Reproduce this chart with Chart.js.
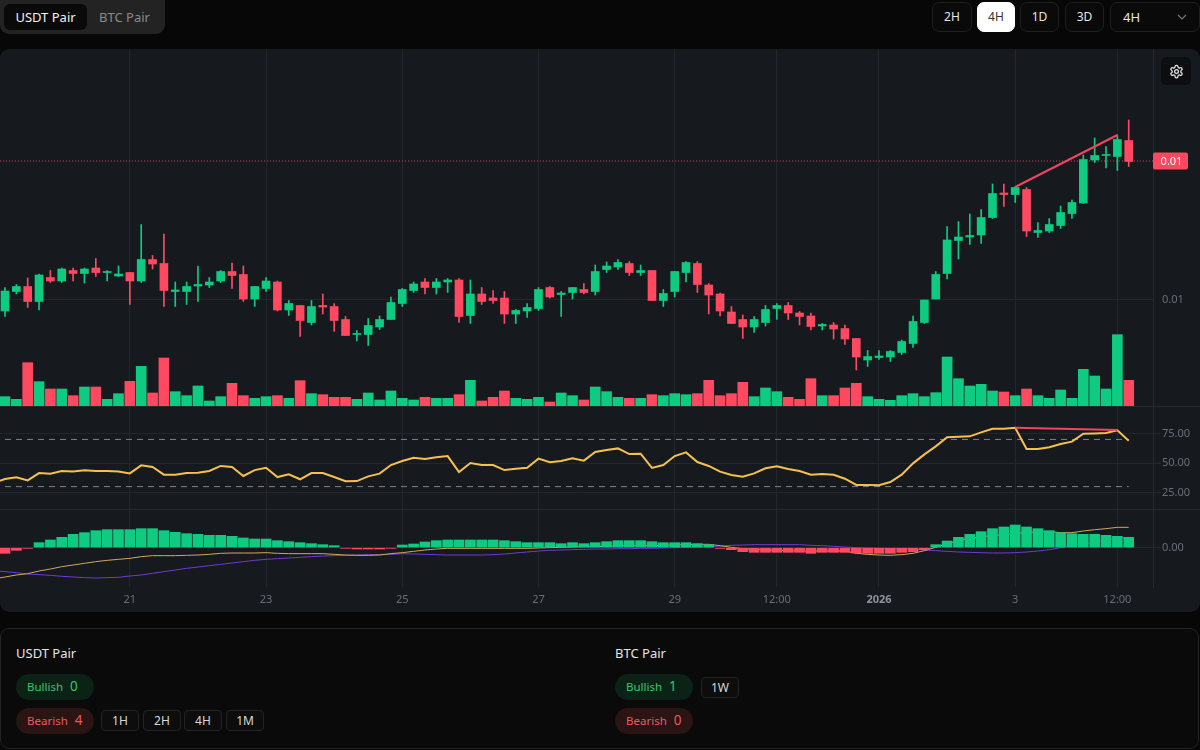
<!DOCTYPE html>
<html>
<head>
<meta charset="utf-8">
<title>Chart</title>
<script src="https://cdn.jsdelivr.net/npm/chart.js@4"></script>
<style>
  * { box-sizing: border-box; }
  html, body { margin: 0; width: 1200px; height: 750px; overflow: hidden; background: #070707; font-family: "Noto Sans", sans-serif; color: #e5e5e5; }
  .abs { position: absolute; }
  .tabs { left: 0; top: 0; width: 165px; height: 34px; background: #232323; border-radius: 0 0 9px 9px; }
  .tab { top: 4px; height: 26px; font-size: 13px; line-height: 26px; text-align: center; border-radius: 6px; }
  .tf { top: 2px; height: 30px; font-size: 12px; line-height: 28px; text-align: center; border: 1px solid #1f1f1f; border-radius: 7px; color: #e5e5e5; background: #0a0a0a; }
  .tf.on { background: #fff; color: #333; border-color: #fff; }
  .panel { left: 0; top: 49px; width: 1200px; height: 563px; background: #161a1f; border-radius: 9px; overflow: hidden; }
  .pane { position: absolute; left: 0; width: 1200px; }
  .sep { position: absolute; left: 0; width: 1200px; height: 1px; background: #262a30; }
  .gear { left: 1161px; top: 57px; width: 30px; height: 28px; background: #0c0e11; border-radius: 6px; display: flex; align-items: center; justify-content: center; }
  .card { left: 0; top: 628px; width: 1199px; height: 121px; background: #0a0a0a; border: 1px solid #232323; border-radius: 9px; }
  .head { font-size: 13px; line-height: 20px; color: #e5e5e5; }
  .pill { width: 78px; height: 26px; border-radius: 13px; font-size: 11.5px; line-height: 24px; padding-left: 11px; }
  .pill b { font-weight: 400; font-size: 13.5px; margin-left: 4px; }
  .bull { background: #0b2216; color: #3cc46c; }
  .bear { background: #2a1414; color: #e35d5d; }
  .chip { width: 38px; height: 21px; font-size: 12px; line-height: 19px; text-align: center; border: 1px solid #222; border-radius: 4px; color: #d8d8d8; background: #0d0d0d; }
</style>
</head>
<body>
<div class="abs tabs"></div>
<div class="abs tab" style="left:4px;width:83px;background:#0a0a0a;color:#f2f2f2">USDT Pair</div>
<div class="abs tab" style="left:87px;width:75px;color:#8a8a8a">BTC Pair</div>

<div class="abs tf" style="left:932px;width:40px">2H</div>
<div class="abs tf on" style="left:977px;width:38px">4H</div>
<div class="abs tf" style="left:1020px;width:39px">1D</div>
<div class="abs tf" style="left:1065px;width:39px">3D</div>
<div class="abs tf" style="left:1110px;width:90px;text-align:left;padding-left:12px;font-size:13px">4H
  <svg style="position:absolute;right:12px;top:10px" width="10" height="8" viewBox="0 0 10 8" fill="none" stroke="#777" stroke-width="1.2"><path d="M1 2l4 4 4-4"/></svg>
</div>

<div class="abs panel">
  <div class="pane" style="top:0;height:357px"><canvas id="priceChart" width="1200" height="357"></canvas></div>
  <div class="sep" style="top:357px"></div>
  <div class="pane" style="top:358px;height:102px"><canvas id="rsiChart" width="1200" height="102"></canvas></div>
  <div class="sep" style="top:460px"></div>
  <div class="pane" style="top:461px;height:102px"><canvas id="macdChart" width="1200" height="102"></canvas></div>
</div>
<div class="abs gear">
  <svg width="15" height="15" viewBox="0 0 24 24" fill="none" stroke="#e8e8e8" stroke-width="2" stroke-linecap="round" stroke-linejoin="round"><path d="M12.22 2h-.44a2 2 0 0 0-2 2v.18a2 2 0 0 1-1 1.73l-.43.25a2 2 0 0 1-2 0l-.15-.08a2 2 0 0 0-2.73.73l-.22.38a2 2 0 0 0 .73 2.73l.15.1a2 2 0 0 1 1 1.72v.51a2 2 0 0 1-1 1.74l-.15.09a2 2 0 0 0-.73 2.73l.22.38a2 2 0 0 0 2.73.73l.15-.08a2 2 0 0 1 2 0l.43.25a2 2 0 0 1 1 1.73V20a2 2 0 0 0 2 2h.44a2 2 0 0 0 2-2v-.18a2 2 0 0 1 1-1.73l.43-.25a2 2 0 0 1 2 0l.15.08a2 2 0 0 0 2.73-.73l.22-.39a2 2 0 0 0-.73-2.73l-.15-.08a2 2 0 0 1-1-1.74v-.5a2 2 0 0 1 1-1.74l.15-.09a2 2 0 0 0 .73-2.73l-.22-.38a2 2 0 0 0-2.73-.73l-.15.08a2 2 0 0 1-2 0l-.43-.25a2 2 0 0 1-1-1.73V4a2 2 0 0 0-2-2z"/><circle cx="12" cy="12" r="3"/></svg>
</div>

<div class="abs card"></div>
<div class="abs head" style="left:16px;top:643px">USDT Pair</div>
<div class="abs pill bull" style="left:16px;top:674px">Bullish <b>0</b></div>
<div class="abs pill bear" style="left:16px;top:708px">Bearish <b>4</b></div>
<div class="abs chip" style="left:101px;top:710px">1H</div>
<div class="abs chip" style="left:143px;top:710px">2H</div>
<div class="abs chip" style="left:184px;top:710px">4H</div>
<div class="abs chip" style="left:226px;top:710px">1M</div>

<div class="abs head" style="left:615px;top:643px">BTC Pair</div>
<div class="abs pill bull" style="left:615px;top:674px">Bullish <b>1</b></div>
<div class="abs pill bear" style="left:615px;top:708px">Bearish <b>0</b></div>
<div class="abs chip" style="left:701px;top:677px">1W</div>

<script>
// prices are in 1e-5 units, the axis formats them back to 0.01
const opens = [
  978, 1017, 1027, 997, 1045, 1038, 1059, 1053, 1064, 1055,
  1048, 1055, 1038, 1081, 1073, 1017, 1017, 1028, 1030, 1038,
  1057, 1051, 1002, 1023, 1036, 980, 989, 955, 989, 987,
  961, 931, 931, 946, 961, 993, 1019, 1036, 1025, 1036,
  1040, 969, 1012, 1004, 1004, 972, 978, 983, 1025, 1011,
  1015, 1021, 1017, 1061, 1066, 1073, 1055, 1059, 999, 1017,
  1055, 1073, 1030, 1012, 976, 961, 946, 955, 983, 989,
  974, 968, 948, 950, 943, 923, 880, 885, 886, 895,
  913, 955, 1002, 1053, 1119, 1126, 1130, 1165, 1214, 1211,
  1221, 1135, 1138, 1149, 1173, 1194, 1280, 1289, 1287, 1319,
];
const closes = [
  1018, 1027, 997, 1050, 1038, 1062, 1053, 1062, 1055, 1057,
  1052, 1038, 1081, 1072, 1019, 1020, 1027, 1031, 1036, 1057,
  1049, 1002, 1027, 1038, 980, 993, 959, 987, 986, 959,
  929, 933, 949, 961, 995, 1021, 1032, 1025, 1036, 1040,
  967, 1012, 997, 999, 972, 979, 985, 1021, 1006, 1014,
  1025, 1015, 1057, 1068, 1075, 1055, 1059, 999, 1013, 1057,
  1075, 1031, 1010, 978, 953, 946, 961, 981, 989, 974,
  967, 947, 951, 942, 922, 886, 887, 888, 897, 917,
  957, 1000, 1051, 1120, 1126, 1129, 1165, 1213, 1211, 1225,
  1138, 1139, 1151, 1175, 1195, 1281, 1289, 1291, 1321, 1277,
];
const highs = [
  1025, 1031, 1044, 1052, 1059, 1064, 1064, 1064, 1083, 1059,
  1068, 1055, 1151, 1089, 1132, 1036, 1036, 1068, 1045, 1059,
  1074, 1068, 1027, 1045, 1038, 999, 989, 999, 1012, 993,
  967, 939, 963, 968, 1006, 1023, 1036, 1043, 1043, 1043,
  1043, 1040, 1025, 1019, 1017, 981, 993, 1025, 1027, 1017,
  1025, 1033, 1070, 1076, 1081, 1077, 1070, 1059, 1021, 1057,
  1077, 1077, 1033, 1014, 987, 970, 967, 989, 993, 995,
  977, 974, 953, 955, 950, 923, 899, 899, 899, 920,
  968, 1000, 1057, 1147, 1157, 1172, 1181, 1232, 1232, 1227,
  1225, 1155, 1163, 1188, 1200, 1290, 1324, 1307, 1330, 1360,
];
const lows = [
  967, 1012, 985, 980, 1035, 1035, 1038, 1034, 1047, 1038,
  1047, 991, 1035, 1062, 987, 987, 991, 997, 1025, 1035,
  1023, 997, 987, 1017, 978, 969, 927, 950, 972, 937,
  929, 918, 909, 941, 961, 987, 1015, 1012, 1012, 1015,
  955, 953, 991, 993, 953, 953, 965, 979, 1004, 967,
  1002, 1012, 1010, 1055, 1061, 1049, 1049, 999, 987, 1006,
  1036, 1015, 972, 968, 953, 923, 935, 948, 961, 961,
  950, 940, 940, 922, 911, 860, 867, 881, 877, 891,
  905, 953, 1002, 1042, 1082, 1111, 1113, 1163, 1187, 1195,
  1127, 1125, 1135, 1143, 1163, 1193, 1275, 1264, 1259, 1267,
];
const volumes = [
  28, 20, 130, 73, 51, 51, 31, 57, 57, 20,
  37, 74, 119, 39, 144, 43, 31, 60, 15, 28,
  68, 31, 23, 28, 31, 23, 76, 37, 34, 26,
  26, 20, 39, 18, 45, 23, 18, 26, 23, 23,
  34, 77, 15, 26, 45, 23, 20, 26, 12, 39,
  31, 18, 57, 43, 26, 23, 23, 34, 31, 37,
  34, 37, 77, 31, 37, 71, 28, 54, 43, 26,
  20, 82, 31, 31, 54, 68, 28, 20, 17, 31,
  37, 28, 40, 147, 82, 60, 65, 45, 42, 31,
  51, 31, 23, 48, 23, 110, 90, 51, 214, 77,
];
const rsiValues = [
  36.4, 37.9, 35.3, 41.5, 41, 43.2, 42.9, 43.8, 43.2, 43.2,
  42.7, 41.2, 48, 46.6, 40.1, 40.1, 41.5, 41.8, 43.2, 47.5,
  46.6, 39, 44, 46, 38.1, 40.4, 36.2, 41.5, 41.5, 38.1,
  34.5, 34.7, 38.7, 41, 48.3, 51.7, 54.5, 53.4, 54.8, 55.9,
  42.4, 50, 48.3, 48.3, 44, 45.2, 46, 53.7, 50.6, 51.7,
  54, 52, 59.3, 61, 62.4, 57.6, 57.9, 45.8, 48.3, 55.9,
  59, 50.8, 47.5, 42.7, 39.8, 38.4, 41.2, 45.5, 47.2, 44.9,
  43.2, 40.1, 40.7, 40.1, 36.7, 31.4, 31.4, 31.1, 33.9, 40.1,
  49.7, 57.3, 64.1, 71.8, 72.3, 72.6, 76, 79.1, 79.1, 79.9,
  61.9, 61.9, 63.3, 66.1, 68.1, 74.9, 75.1, 75.4, 77.7, 68.9,
];
const macdHist = [
  -17, -8, -2, 15, 23, 31, 40, 45, 51, 54,
  54, 54, 57, 57, 51, 46, 42, 40, 37, 37,
  34, 29, 26, 26, 21, 18, 15, 12, 9, 6,
  -2, -4, -4, -4, -2, 8, 11, 17, 21, 23,
  23, 23, 23, 23, 21, 18, 15, 15, 15, 12,
  15, 12, 15, 18, 21, 21, 21, 18, 15, 15,
  15, 12, 9, -2, -6, -12, -14, -14, -14, -14,
  -14, -17, -14, -14, -14, -16, -17, -17, -17, -14,
  -12, -6, 9, 20, 31, 40, 48, 57, 62, 68,
  62, 57, 51, 45, 42, 40, 40, 37, 34, 31,
];
const macdLine = [
  -88, -82, -78, -70, -64, -57, -52, -47, -42, -38,
  -35, -32, -27, -24, -24, -24, -23, -22, -20, -17,
  -16, -16, -16, -15, -17, -18, -18, -18, -18, -20,
  -22, -23, -23, -22, -18, -15, -11, -7, -4, -2,
  -2, -2, -2, -2, -2, -2, -2, -1, 0, 1,
  2, 3, 3, 4, 5, 6, 6, 6, 7, 8,
  9, 10, 10, 6, 1, -3, -5, -7, -8, -9,
  -10, -10, -10, -10, -10, -17, -20, -22, -23, -21,
  -17, -9, 1, 11, 21, 28, 33, 36, 39, 43,
  45, 47, 48, 45, 45, 50, 54, 57, 61, 61,
];
const signalLine = [
  -72, -75, -79, -81, -83, -86, -88, -90, -91, -90,
  -89, -85, -82, -77, -72, -67, -62, -58, -54, -50,
  -46, -42, -38, -35, -33, -31, -29, -27, -25, -24,
  -23, -22, -21, -21, -20, -18, -19, -20, -21, -22,
  -22, -22, -22, -21, -19, -16, -13, -10, -8, -7,
  -6, -5, -4, -4, -3, -3, -2, -2, -1, 0,
  1, 2, 3, 5, 7, 8, 9, 9, 9, 9,
  9, 7, 6, 4, 2, 0, -1, -2, -3, -4,
  -5, -7, -9, -11, -13, -14, -15, -16, -16, -15,
  -13, -10, -6, 0, 6, 11, 16, 23, 28, 31,
];

// values of the candle just left of the visible range, the lines run in from it
const rsiBefore = 33;
const macdBefore = -94;
const signalBefore = -69;

const lastPrice = 1278;
const divergenceIdx = [89, 98];
const priceDivergence = [1226, 1330];
const rsiDivergence = [80, 77.9];
const rsiBands = [70, 30];

const tickIndexes = [11, 23, 35, 47, 59, 68, 77, 89, 98];
const tickLabels = ["21", "23", "25", "27", "29", "12:00", "2026", "3", "12:00"];
const priceTicks = [1000];
const rsiTicks = [75, 50, 25];
const macdTicks = [0];

const UP = "#0ecb81";
const DOWN = "#ff4961";
const GRID = "#23272d";
const TICK_TEXT = "#686e78";
const FONT = "Noto Sans";
const X_MIN = -0.44;
const X_MAX = 101.14;

Chart.defaults.animation = false;
Chart.defaults.font.family = FONT;
Chart.defaults.font.size = 11;

const upColor = (i) => (closes[i] >= opens[i] ? UP : DOWN);
const candleColors = opens.map((_, i) => upColor(i));
const histColors = macdHist.map((v) => (v >= 0 ? UP : DOWN));
const points = (values) => values.map((y, x) => ({ x, y }));
const linePoints = (before, values) => [{ x: -1, y: before }, ...points(values)];

function xAxis(showLabels) {
  return {
    type: "linear",
    min: X_MIN,
    max: X_MAX,
    offset: false,
    grid: { color: GRID, drawTicks: false, offset: false },
    border: { display: false },
    afterBuildTicks: (scale) => {
      scale.ticks = tickIndexes.map((value) => ({ value }));
    },
    afterFit: (scale) => {
      scale.height = showLabels ? 25 : 0;
      scale.paddingLeft = 0;
      scale.paddingRight = 0;
    },
    ticks: {
      display: showLabels,
      autoSkip: false,
      maxRotation: 0,
      padding: 6,
      color: (ctx) => (ctx.tick && ctx.tick.value === 77 ? "#8d939c" : TICK_TEXT),
      font: (ctx) => ({ weight: ctx.tick && ctx.tick.value === 77 ? "bold" : "normal", size: 11 }),
      callback: (value) => tickLabels[tickIndexes.indexOf(value)],
    },
  };
}

function yAxis(min, max, tickValues, format, tickColor) {
  return {
    position: "right",
    min,
    max,
    grid: { color: GRID, tickLength: 8, tickColor },
    border: { display: true, color: "#262a30" },
    afterBuildTicks: (scale) => {
      scale.ticks = tickValues.map((value) => ({ value }));
    },
    afterFit: (scale) => {
      scale.width = 47;
      scale.paddingTop = 0;
      scale.paddingBottom = 0;
    },
    ticks: { color: TICK_TEXT, padding: 1, callback: format },
  };
}

const baseOptions = {
  responsive: false,
  maintainAspectRatio: false,
  layout: { padding: 0 },
  plugins: { legend: { display: false }, tooltip: { enabled: false } },
  elements: { point: { radius: 0 } },
};

// red tag on the axis at the last price
const priceTag = {
  id: "priceTag",
  afterDraw(chart) {
    const { ctx, chartArea } = chart;
    const y = chart.scales.y.getPixelForValue(lastPrice);
    ctx.save();
    ctx.fillStyle = "#f9485f";
    ctx.beginPath();
    ctx.roundRect(chartArea.right, y - 8.5, 35, 17, 2);
    ctx.fill();
    ctx.fillStyle = "#ffffff";
    ctx.font = `11px "${FONT}"`;
    ctx.textAlign = "center";
    ctx.textBaseline = "middle";
    ctx.fillText((lastPrice / 1e5).toFixed(2), chartArea.right + 18.5, y + 0.5);
    ctx.restore();
  },
};

new Chart(document.getElementById("priceChart"), {
  type: "bar",
  plugins: [priceTag],
  data: {
    datasets: [
      {
        type: "line",
        order: 0,
        data: divergenceIdx.map((x, i) => ({ x, y: priceDivergence[i] })),
        borderColor: "#f0455f",
        borderWidth: 2,
      },
      {
        order: 1,
        data: opens.map((o, i) => ({ x: i, y: [o, closes[i]] })),
        backgroundColor: candleColors,
        barThickness: 8,
        grouped: false,
      },
      {
        order: 2,
        data: lows.map((l, i) => ({ x: i, y: [l, highs[i]] })),
        backgroundColor: candleColors,
        barThickness: 1,
        grouped: false,
      },
      {
        type: "line",
        order: 3,
        data: [{ x: X_MIN, y: lastPrice }, { x: X_MAX, y: lastPrice }],
        borderColor: "#c9455a",
        borderWidth: 1,
        borderDash: [1, 2],
      },
      {
        order: 4,
        yAxisID: "vol",
        data: points(volumes),
        backgroundColor: candleColors,
        barThickness: 10,
        grouped: false,
      },
    ],
  },
  options: {
    ...baseOptions,
    scales: {
      x: xAxis(false),
      y: yAxis(788, 1502, priceTicks, (v) => (v / 1e5).toFixed(2), "transparent"),
      vol: { display: false, min: 0, max: 1071 },
    },
  },
});

new Chart(document.getElementById("rsiChart"), {
  type: "line",
  data: {
    datasets: [
      {
        data: divergenceIdx.map((x, i) => ({ x, y: rsiDivergence[i] })),
        borderColor: "#f0455f",
        borderWidth: 2,
      },
      { data: linePoints(rsiBefore, rsiValues), borderColor: "#f5c04e", borderWidth: 2, tension: 0 },
      ...rsiBands.map((band) => ({
        data: [{ x: 0, y: band }, { x: opens.length - 1, y: band }],
        borderColor: "#7c828c",
        borderWidth: 1,
        borderDash: [6, 5],
      })),
    ],
  },
  options: {
    ...baseOptions,
    scales: {
      x: xAxis(false),
      y: yAxis(11, 97.5, rsiTicks, (v) => v.toFixed(2), GRID),
    },
  },
});

new Chart(document.getElementById("macdChart"), {
  type: "bar",
  data: {
    datasets: [
      {
        order: 0,
        data: points(macdHist),
        backgroundColor: histColors,
        barThickness: 10,
        grouped: false,
      },
      { type: "line", order: 1, data: linePoints(macdBefore, macdLine), borderColor: "#cfa95a", borderWidth: 1 },
      { type: "line", order: 2, data: linePoints(signalBefore, signalLine), borderColor: "#7139d6", borderWidth: 1 },
    ],
  },
  options: {
    ...baseOptions,
    scales: {
      x: xAxis(true),
      y: yAxis(-118, 113, macdTicks, (v) => (v / 1e5).toFixed(2), GRID),
    },
  },
});
</script>
</body>
</html>
